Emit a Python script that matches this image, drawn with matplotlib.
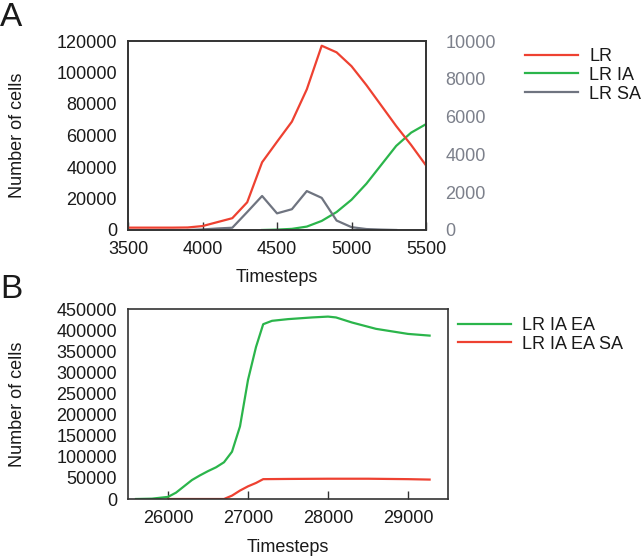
import matplotlib
matplotlib.use("Agg")
import matplotlib.pyplot as plt
from matplotlib.lines import Line2D

plt.rcParams['font.family'] = ['Liberation Sans', 'DejaVu Sans']

# Panel A data
a_steps_lr = [3500, 3600, 3700, 3800, 3900, 4000, 4100, 4200, 4300, 4400, 4500, 4600, 4700,
              4800, 4900, 5000, 5100, 5200, 5300, 5400, 5500]
a_lr = [1500, 1500, 1500, 1500, 1600, 2500, 5000, 7500, 17600, 43000, 56000, 68800, 89300,
        117000, 112800, 104000, 92000, 79000, 66000, 54000, 41000]
a_steps_ia = [4400, 4500, 4600, 4700, 4800, 4900, 5000, 5100, 5200, 5300, 5400, 5500]
a_ia = [0, 20, 60, 180, 480, 950, 1600, 2450, 3450, 4450, 5150, 5600]
a_steps_sa = [3900, 4000, 4100, 4200, 4300, 4400, 4500, 4600, 4700, 4800, 4900, 5000, 5100, 5200, 5300]
a_sa = [0, 30, 80, 120, 950, 1800, 880, 1100, 2060, 1700, 500, 150, 50, 20, 0]

# Panel B data
b_steps_ea = [25600, 25800, 26000, 26100, 26200, 26300, 26400, 26500, 26600, 26700, 26800,
              26900, 27000, 27100, 27190, 27300, 27500, 27800, 28000, 28100, 28300, 28600,
              28800, 29000, 29270]
b_ea = [0, 800, 5000, 15000, 30000, 45000, 56000, 66000, 75000, 87000, 112000,
        172000, 282000, 360000, 414000, 422000, 426000, 430000, 432000, 430000, 418000, 403000,
        397000, 391000, 387000]
b_steps_sa = [26000, 26700, 26800, 26900, 27000, 27100, 27190, 27500, 28000, 28500, 29000, 29270]
b_sa = [0, 0, 8000, 20000, 30000, 38000, 47000, 47500, 48000, 48000, 47000, 46000]

RED = '#ee4131'
GREEN = '#2bb54b'
GRAY = '#6f7480'
GRAYTXT = '#7c808b'
SPINE = '#333333'
TXT = '#1a1a1a'
FS = 13

W, H = 643, 556
fig = plt.figure(figsize=(W / 100, H / 100), dpi=100)

def rect(l, t, r, b):
    return [l / W, 1 - b / H, (r - l) / W, (b - t) / H]

def style(ax):
    for s in ax.spines.values():
        s.set_color(SPINE)
        s.set_linewidth(1.2)
    ax.tick_params(axis='x', direction='in', length=6, width=1, color=SPINE,
                   labelsize=FS, pad=8, top=False, labelcolor=TXT)
    ax.tick_params(axis='y', length=0, labelsize=FS, pad=8, labelcolor=TXT)

# Panel A
axA = fig.add_axes(rect(128, 41, 426, 230))
axA2 = axA.twinx()
axA.plot(a_steps_lr, a_lr, color=RED, lw=1.6)
axA2.plot(a_steps_ia, a_ia, color=GREEN, lw=1.6)
axA2.plot(a_steps_sa, a_sa, color=GRAY, lw=1.6)
axA.set_xlim(3500, 5500)
axA.set_ylim(0, 120000)
axA2.set_ylim(0, 10000)
axA.set_xticks([3500, 4000, 4500, 5000, 5500])
axA.set_yticks(range(0, 120001, 20000))
axA2.set_yticks(range(0, 10001, 2000))
style(axA)
style(axA2)
axA2.tick_params(axis='y', labelcolor=GRAYTXT, labelsize=FS, pad=14)
axA.set_ylabel('Number of cells', fontsize=FS, color=TXT, va='center')
axA.yaxis.set_label_coords((18 - 128) / 298, 0.5)
axA.set_xlabel('Timesteps', fontsize=FS, color=TXT, va='center')
axA.xaxis.set_label_coords(0.5, -(277 - 230) / 189)
axA.set_zorder(axA2.get_zorder() + 1)
axA.patch.set_visible(False)

handlesA = [Line2D([], [], color=RED, lw=1.6), Line2D([], [], color=GREEN, lw=1.6),
            Line2D([], [], color=GRAY, lw=1.6)]
fig.legend(handlesA, ['LR', 'LR IA', 'LR SA'], loc='upper left',
           bbox_to_anchor=(525 / W, 1 - 48 / H), frameon=False, fontsize=FS,
           handlelength=2.95, handletextpad=0.6, labelspacing=0.1, borderaxespad=0,
           borderpad=0, labelcolor=TXT)

# Panel B
axB = fig.add_axes(rect(128, 309, 448, 499))
axB.plot(b_steps_ea, b_ea, color=GREEN, lw=1.6)
axB.plot(b_steps_sa, b_sa, color=RED, lw=1.6)
axB.set_xlim(25500, 29500)
axB.set_ylim(0, 450000)
axB.set_xticks([26000, 27000, 28000, 29000])
axB.set_yticks(range(0, 450001, 50000))
style(axB)
axB.set_ylabel('Number of cells', fontsize=FS, color=TXT, va='center')
axB.yaxis.set_label_coords((18 - 128) / 320, 0.5)
axB.set_xlabel('Timesteps', fontsize=FS, color=TXT, va='center')
axB.xaxis.set_label_coords(0.5, -(547 - 499) / 190)

handlesB = [Line2D([], [], color=GREEN, lw=1.6), Line2D([], [], color=RED, lw=1.6)]
fig.legend(handlesB, ['LR IA EA', 'LR IA EA SA'], loc='upper left',
           bbox_to_anchor=(458 / W, 1 - 317 / H), frameon=False, fontsize=FS,
           handlelength=2.95, handletextpad=0.6, labelspacing=0.1, borderaxespad=0,
           borderpad=0, labelcolor=TXT)

fig.text(0 / W, 1 - 17 / H, 'A', fontsize=24, va='center', ha='left', color=TXT)
fig.text(0 / W, 1 - 289 / H, 'B', fontsize=24, va='center', ha='left', color=TXT)

fig.savefig('out.png', dpi=100)
